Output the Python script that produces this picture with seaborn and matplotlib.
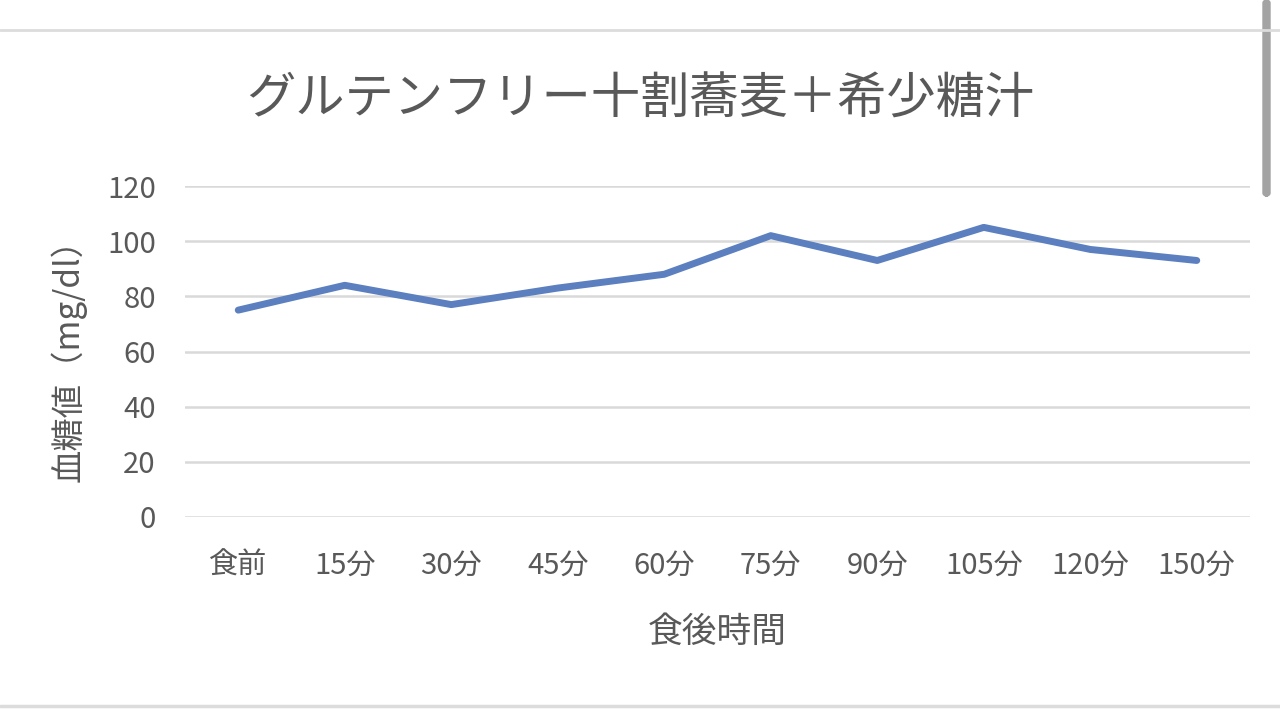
import numpy as np
import pandas as pd
import matplotlib
matplotlib.use("Agg")
import matplotlib.pyplot as plt
import seaborn as sns
from matplotlib.lines import Line2D
from matplotlib.patches import FancyBboxPatch

# データ
jikan = ["食前", "15分", "30分", "45分", "60分", "75分", "90分", "105分", "120分", "150分"]
kettouchi = [75, 84, 77, 83, 88, 102, 93, 105, 97, 93]
y_ticks = [0, 20, 40, 60, 80, 100, 120]

sns.set_theme(style="white")
plt.rcParams['font.family'] = ['Noto Sans CJK JP', 'DejaVu Sans']

text_color = "#595959"
grid_color = "#d9d9d9"
line_color = "#5b7fbf"

df = pd.DataFrame({"jikan": jikan, "kettouchi": kettouchi})

fig = plt.figure(figsize=(12.8, 7.2), dpi=100)
ax = fig.add_axes([185 / 1280, (720 - 517) / 720, (1250 - 185) / 1280, (517 - 186) / 720])

sns.lineplot(data=df, x="jikan", y="kettouchi", ax=ax, color=line_color,
             linewidth=5, sort=False, solid_capstyle="round", zorder=3)

ax.set_ylim(0, 120)
ax.set_xlim(-0.5, len(jikan) - 0.5)
ax.set_yticks(y_ticks)
for v in y_ticks:
    ax.axhline(v, color=grid_color, linewidth=1.8, zorder=1)

for s in ax.spines.values():
    s.set_visible(False)
ax.tick_params(axis="x", length=0, pad=24, labelsize=21, labelcolor=text_color)
ax.tick_params(axis="y", length=0, pad=21, labelsize=21, labelcolor=text_color)

ax.set_xlabel("食後時間", fontsize=25, color=text_color)
ax.set_ylabel("血糖値（mg/dl）", fontsize=24, color=text_color)
ax.xaxis.set_label_coords(0.5, -(632 - 517) / 331)
ax.xaxis.label.set_va("center")
ax.yaxis.set_label_coords((68 - 185) / 1065, 0.5)
ax.yaxis.label.set_va("center")

fig.text(0.5, (720 - 100) / 720, "グルテンフリー十割蕎麦＋希少糖汁", fontsize=35.5,
         color=text_color, ha="center", va="center")

# 枠線とスクロールバー
fig.add_artist(Line2D([0, 1], [(720 - 30) / 720] * 2, color="#dcdcdc", linewidth=2))
fig.add_artist(Line2D([0, 1], [(720 - 706) / 720] * 2, color="#dcdcdc", linewidth=2.5))
fig.add_artist(FancyBboxPatch((1263 / 1280, (720 - 196) / 720), 7 / 1280, 196 / 720,
                              boxstyle="round,pad=0,rounding_size=0.004",
                              transform=fig.transFigure, color="#a3a3a3"))

fig.savefig("out.png", dpi=100, facecolor="white")
